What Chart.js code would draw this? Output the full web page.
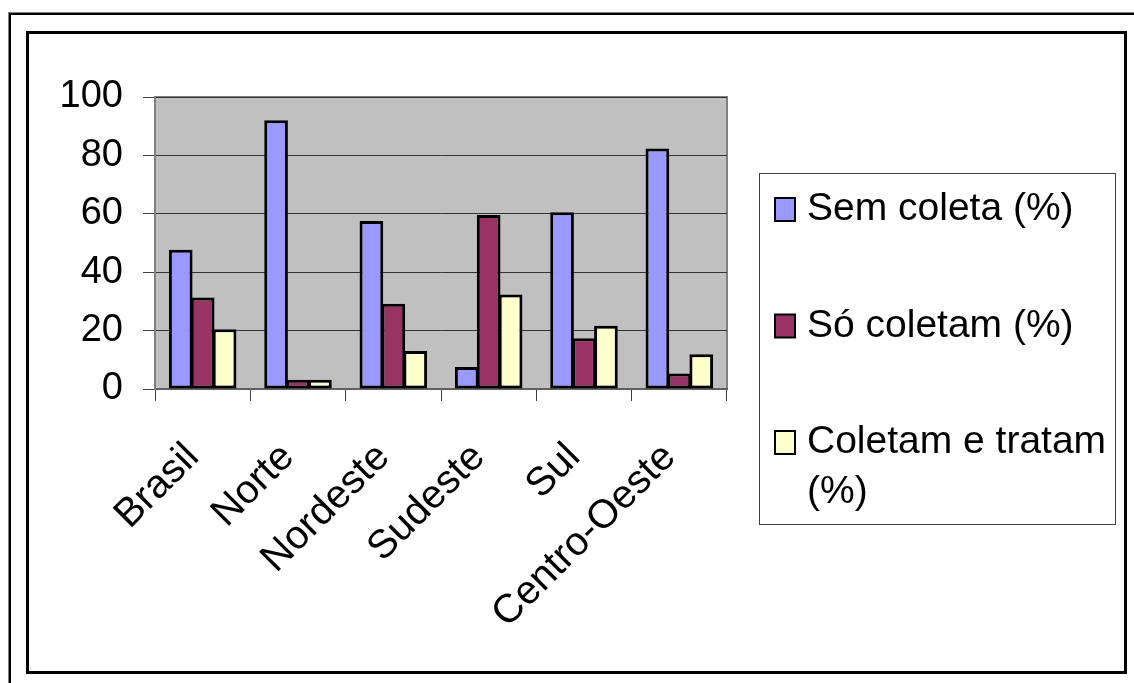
<!DOCTYPE html>
<html>
<head>
<meta charset="utf-8">
<script src="https://cdn.jsdelivr.net/npm/chart.js@4/dist/chart.umd.min.js"></script>
<style>
    body { margin: 0; background: #fff; }
    #chart { display: block; }
</style>
</head>
<body>
<canvas id="chart" width="1134" height="683"></canvas>
<script>
// data
const categories = ['Brasil', 'Norte', 'Nordeste', 'Sudeste', 'Sul', 'Centro-Oeste'];
const seriesNames = ['Sem coleta (%)', 'Só coletam (%)', 'Coletam e tratam (%)'];
const semColeta = [47.7, 92.0, 57.5, 7.5, 60.5, 82.4];
const soColetam = [31.3, 3.2, 29.2, 59.6, 17.4, 5.3];
const coletamTratam = [20.5, 3.2, 13.0, 32.4, 21.7, 11.9];
const yTicks = [0, 20, 40, 60, 80, 100];

const colors = ['#9999FF', '#993366', '#FFFFCC'];
const fontFamily = "'Liberation Sans', Arial, sans-serif";

// frames + grey plot area
const backgroundPlugin = {
    id: 'background',
    beforeDraw(chart) {
        const ctx = chart.ctx;
        const a = chart.chartArea;
        ctx.save();
        // outer frame (only top + left visible)
        ctx.fillStyle = '#808080';
        ctx.fillRect(8, 12, 1126, 1);
        ctx.fillRect(8, 12, 1, 671);
        ctx.fillStyle = '#000';
        ctx.fillRect(9, 13, 1125, 2);
        ctx.fillRect(9, 13, 2, 670);
        // inner frame
        ctx.strokeStyle = '#000';
        ctx.lineWidth = 3;
        ctx.strokeRect(27.5, 32.5, 1098, 640);
        // plot area
        ctx.fillStyle = '#C0C0C0';
        ctx.fillRect(a.left, a.top, a.right - a.left, a.bottom - a.top);
        ctx.strokeStyle = '#808080';
        ctx.lineWidth = 2;
        ctx.strokeRect(a.left, a.top, a.right - a.left, a.bottom - a.top);
        ctx.restore();
    }
};

// boxed legend on the right, wraps long names
const legendPlugin = {
    id: 'boxLegend',
    afterDraw(chart) {
        const ctx = chart.ctx;
        const box = { x: 759.5, y: 173.5, w: 356, h: 351 };
        ctx.save();
        ctx.fillStyle = '#fff';
        ctx.fillRect(box.x, box.y, box.w, box.h);
        ctx.strokeStyle = '#404040';
        ctx.lineWidth = 1;
        ctx.strokeRect(box.x, box.y, box.w, box.h);

        ctx.font = '39px ' + fontFamily;
        ctx.textBaseline = 'alphabetic';
        ctx.textAlign = 'left';
        const textX = 807;
        const maxW = box.x + box.w - textX - 2;
        const lineH = 50;
        let baseline = 220;
        chart.data.datasets.forEach(function(ds, i) {
            // swatch
            ctx.fillStyle = '#000';
            ctx.fillRect(774, baseline - 23, 22, 25);
            ctx.fillStyle = ds.backgroundColor;
            ctx.fillRect(776, baseline - 21, 18, 21);

            // wrap the label
            const words = ds.label.split(' ');
            const lines = [];
            let cur = '';
            words.forEach(function(w) {
                const test = cur ? cur + ' ' + w : w;
                if (ctx.measureText(test).width > maxW && cur) {
                    lines.push(cur);
                    cur = w;
                } else {
                    cur = test;
                }
            });
            lines.push(cur);
            ctx.fillStyle = '#000';
            lines.forEach(function(line, j) {
                ctx.fillText(line, textX, baseline + j * lineH);
            });
            baseline += 116.5;
        });
        ctx.restore();
    }
};

const ctx = document.getElementById('chart');

new Chart(ctx, {
    type: 'bar',
    data: {
        labels: categories,
        datasets: [
            { label: seriesNames[0], data: semColeta, backgroundColor: colors[0] },
            { label: seriesNames[1], data: soColetam, backgroundColor: colors[1] },
            { label: seriesNames[2], data: coletamTratam, backgroundColor: colors[2] }
        ].map(function(ds) {
            ds.borderColor = '#000';
            ds.borderWidth = 3;
            ds.borderSkipped = false;
            ds.categoryPercentage = 0.69;
            ds.barPercentage = 1.08;
            return ds;
        })
    },
    options: {
        responsive: false,
        animation: false,
        layout: { padding: { top: 97, right: 407, left: 0, bottom: 0 } },
        plugins: {
            legend: { display: false },
            tooltip: { enabled: false }
        },
        scales: {
            x: {
                grid: {
                    offset: true,
                    drawOnChartArea: false,
                    tickLength: 12,
                    tickColor: '#404040',
                    tickWidth: 1
                },
                border: { color: '#606060', width: 2 },
                ticks: {
                    color: '#000',
                    font: { size: 40, family: fontFamily },
                    minRotation: 45,
                    maxRotation: 45,
                    autoSkip: false,
                    labelOffset: -10,
                    padding: 33
                },
                afterFit(scale) { scale.height = 683 - 389; }
            },
            y: {
                min: 0,
                max: 100,
                afterBuildTicks(scale) {
                    scale.ticks = yTicks.map(function(v) { return { value: v }; });
                },
                grid: {
                    color: '#333',
                    lineWidth: 1,
                    tickLength: 12,
                    tickColor: '#404040'
                },
                border: { color: '#808080', width: 2 },
                ticks: {
                    color: '#000',
                    font: { size: 38, family: fontFamily },
                    padding: 20
                },
                afterFit(scale) { scale.width = 155; }
            }
        }
    },
    plugins: [backgroundPlugin, legendPlugin]
});
</script>
</body>
</html>
